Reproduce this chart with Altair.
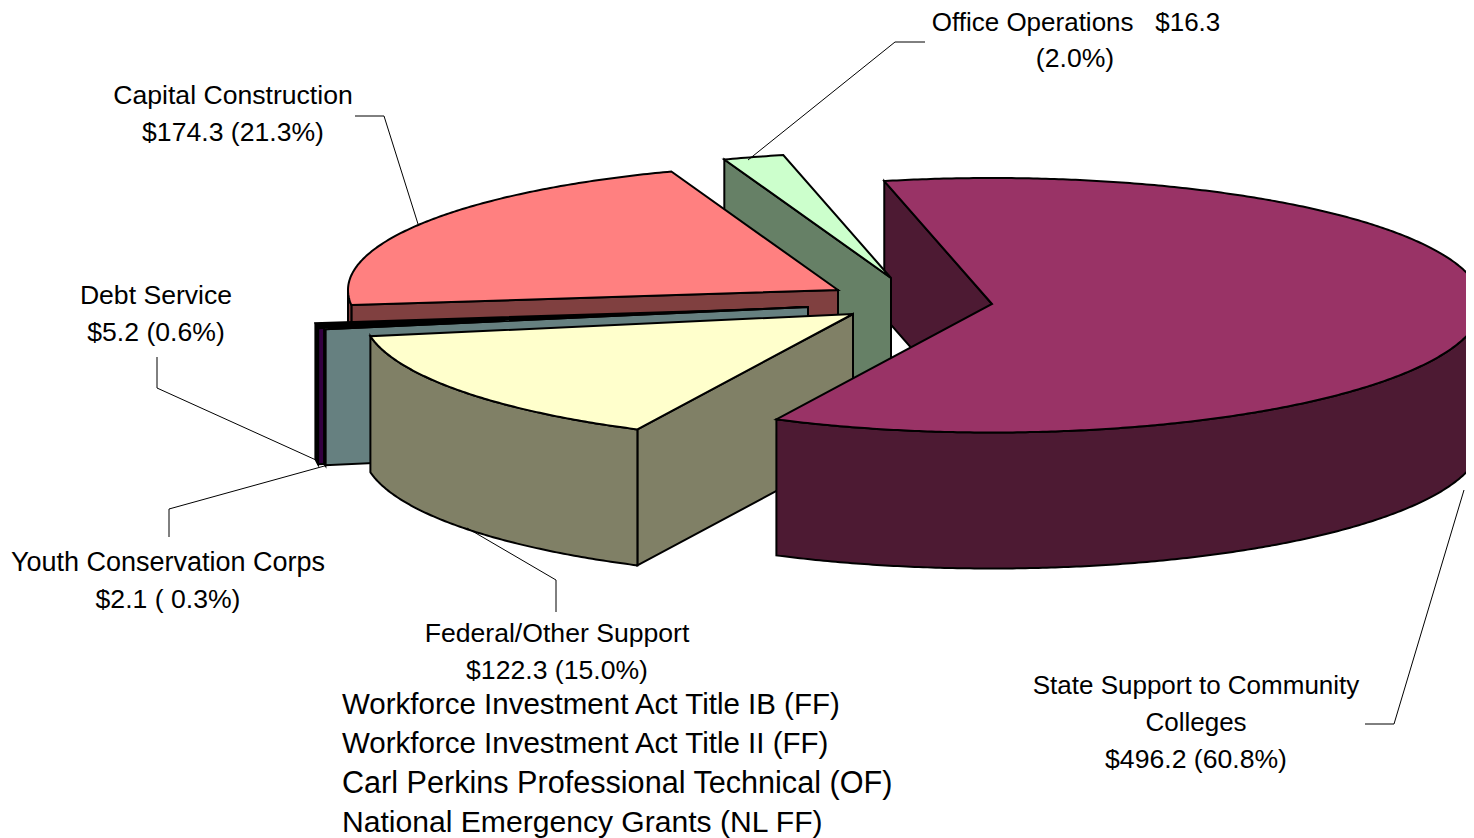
import altair as alt
import numpy as np
import pandas as pd

# ---- data ----
names = ["State Support to Community Colleges", "Federal/Other Support", "Youth Conservation Corps",
         "Debt Service", "Capital Construction", "Office Operations"]
amounts = [496.2, 122.3, 2.1, 5.2, 174.3, 16.3]
top_colors = ["#993366", "#FFFFCC", "#CCFFFF", "#000000", "#FF8080", "#CCFFCC"]
side_colors = ["#4D1A33", "#808066", "#668080", "#330040", "#804040", "#668066"]
rim_colors = ["#4D1A33", "#808066", "#668080", "#000000", "#804040", "#668066"]

label_lines = ["Office Operations \u00a0\u00a0$16.3", "(2.0%)", "Capital Construction", "$174.3 (21.3%)",
               "Debt Service", "$5.2 (0.6%)", "Youth Conservation Corps", "$2.1 ( 0.3%)",
               "Federal/Other Support", "$122.3 (15.0%)", "State Support to Community", "Colleges",
               "$496.2 (60.8%)"]
program_lines = ["Workforce Investment Act Title IB (FF)", "Workforce Investment Act Title II (FF)",
                 "Carl Perkins Professional Technical (OF)", "National Emergency Grants (NL FF)"]

# ---- layout (pixels of the page) ----
label_x = [1076, 1075, 233, 233, 156, 156, 168, 168, 557, 557, 1196, 1196, 1196]
label_y = [23, 59, 96, 133, 296, 333, 563, 600, 634, 671, 686, 723, 760]
label_size = [26, 26.6, 26.6, 26.6, 26.6, 26.6, 27, 26.6, 26.6, 26.6, 26, 26, 26.6]
program_x = [342, 342, 342, 342]
program_y = [705, 744, 784, 823]
program_size = [29.5, 29.5, 30.6, 30.1]
leaders = [
    [(748, 160), (895, 42), (925, 42)],
    [(418, 224), (384, 116), (355, 116)],
    [(157, 357), (157, 388), (316, 460)],
    [(169, 537), (169, 509), (328, 465)],
    [(467, 528), (556, 580), (556, 612)],
    [(1464, 490), (1394, 724), (1365, 724)],
]
centers = [(992, 304), (853, 314), (808, 307), (802, 308), (838, 290), (891, 278)]
RX, RY_BACK, RY_FRONT, DEPTH, START = 490.0, 126.0, 128.5, 136.0, -12.7

X = alt.X("x:Q", axis=None, scale=alt.Scale(domain=[8, 1466], nice=False, zero=False))
Y = alt.Y("y:Q", axis=None, scale=alt.Scale(domain=[838, 8], nice=False, zero=False))

total = sum(amounts)
edges = START + np.concatenate([[0], np.cumsum(amounts)]) / total * 360.0


def rim(c, a0, a1):
    n = max(2, int(abs(a1 - a0) * 2) + 1)
    p = np.radians(np.linspace(a0, a1, n))
    return [(c[0] + RX * np.sin(t),
             c[1] - (RY_BACK if np.cos(t) > 0 else RY_FRONT) * np.cos(t)) for t in p]


def poly(points, fill):
    df = pd.DataFrame(points, columns=["x", "y"])
    df["i"] = range(len(df))
    return alt.Chart(df).mark_line(interpolate="linear-closed", fill=fill, stroke="black",
                                   strokeWidth=2, strokeJoin="miter", clip=True).encode(
        x=X, y=Y, order="i:Q")


def cut_wall(k):
    c = centers[k]
    p = rim(c, edges[k], edges[k])[0]
    return poly([c, p, (p[0], p[1] + DEPTH), (c[0], c[1] + DEPTH)], side_colors[k])


def outer_wall(k):
    a0, a1 = max(edges[k], 90.0), min(edges[k + 1], 270.0)
    r = rim(centers[k], a0, a1)
    return poly(r + [(x, y + DEPTH) for x, y in reversed(r)], rim_colors[k])


def top(k):
    return poly([centers[k]] + rim(centers[k], edges[k], edges[k + 1]), top_colors[k])


layers = [cut_wall(0)]
layers += [cut_wall(5), top(5)]
layers += [cut_wall(4), outer_wall(4), top(4)]
layers += [cut_wall(3), outer_wall(3), top(3)]
layers += [cut_wall(2), outer_wall(2), top(2)]
layers += [cut_wall(1), outer_wall(1), top(1)]
layers += [outer_wall(0), top(0)]

for path in leaders:
    df = pd.DataFrame(path, columns=["x", "y"])
    df["i"] = range(len(df))
    layers.append(alt.Chart(df).mark_line(color="black", strokeWidth=1, clip=True).encode(
        x=X, y=Y, order="i:Q"))

labels = pd.DataFrame({"x": label_x, "y": label_y, "t": label_lines, "s": label_size})
layers.append(alt.Chart(labels).mark_text(font="Liberation Sans", color="black",
                                          align="center", baseline="middle").encode(
    x=X, y=Y, text="t:N", size=alt.Size("s:Q", scale=None)))
programs = pd.DataFrame({"x": program_x, "y": program_y, "t": program_lines, "s": program_size})
layers.append(alt.Chart(programs).mark_text(font="Liberation Sans", color="black",
                                            align="left", baseline="middle").encode(
    x=X, y=Y, text="t:N", size=alt.Size("s:Q", scale=None)))

chart = alt.layer(*layers).properties(
    width=1458, height=830, padding=0,
    autosize=alt.AutoSizeParams(type="none"),
).configure_view(stroke=None)
chart.save("out.html", embed_options={"renderer": "svg", "actions": False})
